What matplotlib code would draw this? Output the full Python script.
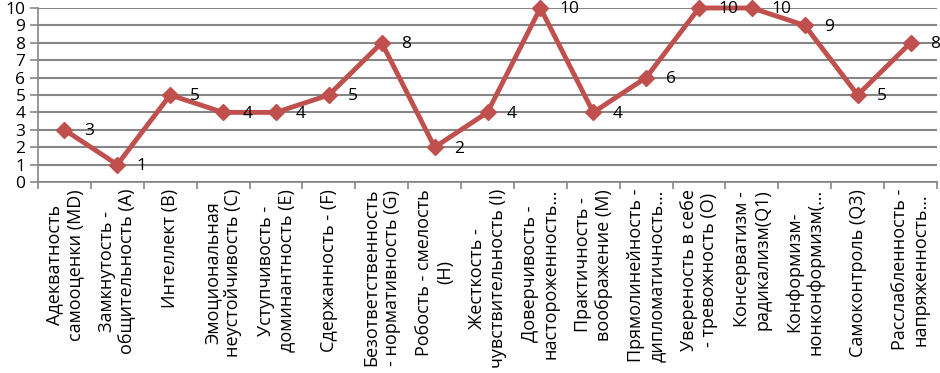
import numpy as np
import matplotlib
matplotlib.use("Agg")
import matplotlib.pyplot as plt

plt.rcParams['font.family'] = ['Open Sans', 'DejaVu Sans']

labels = [
    "Адекватность\nсамооценки (MD)",
    "Замкнутость -\nобщительность (A)",
    "Интеллект (B)",
    "Эмоциональная\nнеустойчивость (C)",
    "Уступчивость -\nдоминантность (E)",
    "Сдержанность - (F)",
    "Безответственность\n- нормативность (G)",
    "Робость - смелость\n(H)",
    "Жесткость -\nчувствительность (I)",
    "Доверчивость -\nнастороженность…",
    "Практичность -\nвоображение (M)",
    "Прямолинейность -\nдипломатичность…",
    "Увереность в себе\n- тревожность (O)",
    "Консерватизм -\nрадикализм(Q1)",
    "Конформизм-\nнонконформизм(…",
    "Самоконтроль (Q3)",
    "Расслабленность -\nнапряженность…",
]
values = [3, 1, 5, 4, 4, 5, 8, 2, 4, 10, 4, 6, 10, 10, 9, 5, 8]
yticks = list(range(0, 11))

red = "#C0504D"
grid = "#868686"

fig = plt.figure(figsize=(9.4, 3.73), dpi=100)
ax = fig.add_axes([38 / 940, 1 - 182 / 373, (937 - 38) / 940, 174 / 373])

x = np.arange(len(values))
ax.plot(x, values, color=red, lw=3.5, marker="D", ms=8, mfc=red, mec=red,
        solid_joinstyle="round", zorder=3, clip_on=False)
for xi, v in zip(x, values):
    ax.annotate(str(v), (xi, v), xytext=(14, -1), textcoords="offset points",
                ha="left", va="center", fontsize=12.5, color="black")

ax.set_xlim(-0.5, len(values) - 0.5)
ax.set_ylim(0, 10)
ax.set_yticks(yticks)
ax.set_yticklabels([str(t) for t in yticks], fontsize=12.5)
ax.yaxis.grid(True, color=grid, lw=1.5)
ax.set_axisbelow(True)

ax.set_xticks(x)
ax.set_xticklabels(labels, rotation=90, fontsize=13, ha="center", va="top",
                   multialignment="center", linespacing=1.2)
ax.set_xticks(np.arange(len(values) + 1) - 0.5, minor=True)
ax.tick_params(axis="x", which="major", length=0, pad=5)
ax.tick_params(axis="x", which="minor", length=5, color=grid, width=1.2)
ax.tick_params(axis="y", length=6, color=grid, width=1.2, pad=3)

for s in ["top", "right"]:
    ax.spines[s].set_visible(False)
ax.spines["left"].set_color(grid)
ax.spines["bottom"].set_color(grid)
ax.spines["left"].set_linewidth(1.2)
ax.spines["bottom"].set_linewidth(1.2)

fig.savefig("out.png", dpi=100)
